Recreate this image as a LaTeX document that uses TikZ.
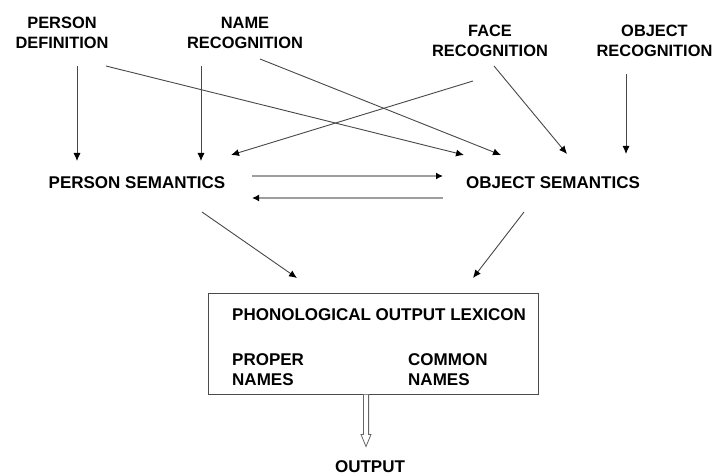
\documentclass[tikz,border=0pt]{standalone}
\usepackage{fontspec}
\setmainfont{Liberation Sans}
\usetikzlibrary{arrows.meta,calc}
\begin{document}
\begin{tikzpicture}[x=1pt,y=-1pt,
  lbl/.style={font=\bfseries\fontsize{17}{19.5}\selectfont, align=center, inner sep=0pt},
  toplbl/.style={lbl, font=\bfseries\fontsize{16.4}{19.5}\selectfont},
  conn/.style={draw=black!72, line width=0.9pt, -{Latex[length=8pt,width=7pt,color=black]}},
  hconn/.style={draw=black!38, line width=1.8pt, -{Latex[length=7pt,width=7pt,color=black]}},
  lexbox/.style={draw=black!70, line width=0.9pt, inner sep=0pt, minimum width=330pt, minimum height=101pt},
  hollow/.style={draw=black!60, line width=0.8pt, fill=white}]
\useasboundingbox (0,0) rectangle (715,476);

% labels
\node[toplbl] (pd) at (62,33) {PERSON\\DEFINITION};
\node[toplbl] (nr) at (245,33) {NAME\\RECOGNITION};
\node[toplbl] (fr) at (490,41) {FACE\\RECOGNITION};
\node[toplbl] (or) at (654.5,41) {OBJECT\\RECOGNITION};
\node[lbl] (ps) at (137,183) {PERSON SEMANTICS};
\node[lbl] (os) at (553,183) {OBJECT SEMANTICS};
\node[lexbox] (lex) at (373,343.5) {};
\node[lbl, anchor=west] (pol) at (232,315) {PHONOLOGICAL OUTPUT LEXICON};
\node[lbl, anchor=west, align=left] (pn) at (232,369.5) {PROPER\\NAMES};
\node[lbl, anchor=west, align=left] (cn) at (408,369.5) {COMMON\\NAMES};
\node[lbl] (out) at (370,467) {OUTPUT};

% connector end points
\coordinate (pdA) at (77,66);   \coordinate (psA) at (77,161);
\coordinate (nrA) at (201,66);  \coordinate (psB) at (201,161);
\coordinate (pdB) at (106,66);  \coordinate (osA) at (464,155);
\coordinate (nrB) at (260,59);  \coordinate (osB) at (501,155);
\coordinate (frA) at (473,81);  \coordinate (psC) at (231,155);
\coordinate (frB) at (494,66);  \coordinate (osC) at (567,154);
\coordinate (orA) at (626,74);  \coordinate (osD) at (626,154);
\coordinate (psR) at (252,176); \coordinate (osL) at (443,176);
\coordinate (osL2) at (443,198); \coordinate (psR2) at (252,198);
\coordinate (psD) at (202,212); \coordinate (lexA) at (297,278);
\coordinate (osE) at (524,212); \coordinate (lexB) at (473,278);

\draw[conn] (pdA) -- (psA);
\draw[conn] (nrA) -- (psB);
\draw[conn] (pdB) -- (osA);
\draw[conn] (nrB) -- (osB);
\draw[conn] (frA) -- (psC);
\draw[conn] (frB) -- (osC);
\draw[conn] (orA) -- (osD);
\draw[hconn] (psR) -- (osL);
\draw[hconn] (osL2) -- (psR2);
\draw[conn] (psD) -- (lexA);
\draw[conn] (osE) -- (lexB);

% hollow output arrow
\coordinate (oa) at (366,394.5);
\draw[hollow] ($(oa)+(-2.6,0)$) -- ($(oa)+(-2.6,40)$) -- ($(oa)+(-5,40)$) -- ($(oa)+(0,52)$)
  -- ($(oa)+(5,40)$) -- ($(oa)+(2.6,40)$) -- ($(oa)+(2.6,0)$);
\end{tikzpicture}
\end{document}
